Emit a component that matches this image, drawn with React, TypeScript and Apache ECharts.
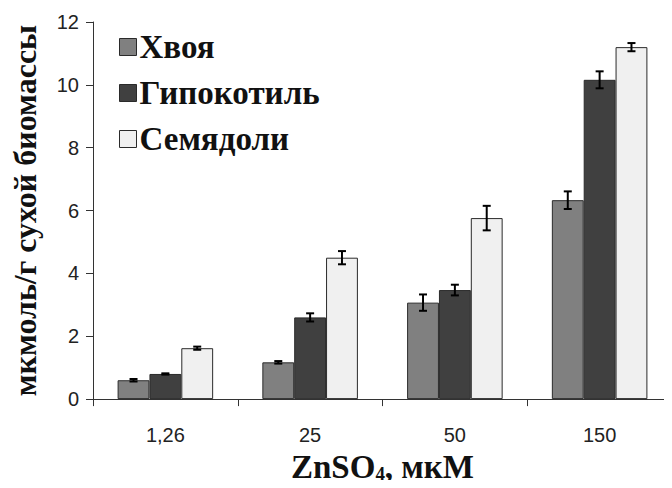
import React, { useEffect, useRef } from "react";
import * as echarts from "echarts";

const categories = ["1,26", "25", "50", "150"];
const seriesNames = ["Хвоя", "Гипокотиль", "Семядоли"];
const khvoya = [0.6, 1.17, 3.07, 6.33];
const gipokotil = [0.8, 2.6, 3.47, 10.16];
const semyadoli = [1.62, 4.5, 5.76, 11.2];
const khvoyaErr = [0.04, 0.04, 0.26, 0.28];
const gipokotilErr = [0.02, 0.13, 0.17, 0.27];
const semyadoliErr = [0.05, 0.21, 0.39, 0.13];
const colors = ["#808080", "#404040", "#f0f0f0"];

const values = [khvoya, gipokotil, semyadoli];
const errors = [khvoyaErr, gipokotilErr, semyadoliErr];

export default function App() {
  const ref = useRef<HTMLDivElement>(null);
  useEffect(() => {
    if (!ref.current) return;
    const chart = echarts.init(ref.current, null, { renderer: "svg" });
    const gapFrac = 0.34;
    const barSeries = seriesNames.map((name, i) => ({
      name,
      type: "bar",
      data: values[i],
      barGap: "0%",
      barCategoryGap: "34%",
      itemStyle: { color: colors[i], borderColor: "#2a2a2a", borderWidth: 1 },
      z: 2,
    }));
    const errSeries = seriesNames.map((name, i) => ({
      name: name + "_err",
      type: "custom",
      data: values[i].map((v, k) => [k, v - errors[i][k], v + errors[i][k]]),
      encode: { x: 0, y: [1, 2] },
      z: 5,
      renderItem: (params: any, api: any) => {
        const idx = api.value(0);
        const lo = api.coord([idx, api.value(1)]);
        const hi = api.coord([idx, api.value(2)]);
        const catW = api.size([1, 0])[0];
        const bw = (catW * (1 - gapFrac)) / 3;
        const x = lo[0] + (i - 1) * bw;
        const hw = 4;
        const st = { stroke: "#000", lineWidth: 2 };
        return {
          type: "group",
          children: [
            { type: "line", shape: { x1: x, y1: lo[1], x2: x, y2: hi[1] }, style: st },
            { type: "line", shape: { x1: x - hw, y1: lo[1], x2: x + hw, y2: lo[1] }, style: st },
            { type: "line", shape: { x1: x - hw, y1: hi[1], x2: x + hw, y2: hi[1] }, style: st },
          ],
        };
      },
    }));
    chart.setOption({
      animation: false,
      backgroundColor: "#ffffff",
      grid: { left: 93, top: 22, bottom: 87, right: -7, containLabel: false },
      legend: {
        data: seriesNames,
        orient: "vertical",
        left: 114,
        top: 25,
        itemWidth: 17,
        itemHeight: 17,
        itemGap: 12,
        icon: "rect",
        itemStyle: { borderColor: "#2a2a2a", borderWidth: 1 },
        textStyle: {
          fontFamily: "Liberation Serif",
          fontWeight: "bold",
          fontSize: 33,
          color: "#111",
          lineHeight: 34,
          padding: [0, 0, 0, -2],
        },
      },
      xAxis: {
        type: "category",
        data: categories,
        name: "ZnSO{sub|4}, мкМ",
        nameLocation: "middle",
        nameGap: 50,
        nameTextStyle: {
          fontFamily: "Liberation Serif",
          fontWeight: "bold",
          fontSize: 33,
          color: "#111",
          rich: {
            sub: {
              fontFamily: "Liberation Serif",
              fontWeight: "bold",
              fontSize: 19,
              color: "#111",
              verticalAlign: "bottom",
              padding: [12, 0, 0, 0],
            },
          },
        },
        axisLine: { lineStyle: { color: "#333", width: 1 } },
        axisTick: { show: true, length: 7, alignWithLabel: false, lineStyle: { color: "#333" } },
        axisLabel: { fontFamily: "Liberation Sans", fontSize: 20, color: "#222", margin: 26 },
      },
      yAxis: {
        type: "value",
        min: 0,
        max: 12,
        interval: 2,
        name: "мкмоль/г сухой биомассы",
        nameLocation: "middle",
        nameGap: 52,
        nameTextStyle: {
          fontFamily: "Liberation Serif",
          fontWeight: "bold",
          fontSize: 32,
          color: "#111",
        },
        splitLine: { show: false },
        axisLine: { show: true, lineStyle: { color: "#333", width: 1 } },
        axisTick: { show: true, length: 7, lineStyle: { color: "#333" } },
        axisLabel: { fontFamily: "Liberation Sans", fontSize: 20, color: "#222", margin: 14 },
      },
      series: [...barSeries, ...errSeries],
    });
    return () => chart.dispose();
  }, []);
  return <div ref={ref} style={{ width: 672, height: 488, margin: -8 }} />;
}
